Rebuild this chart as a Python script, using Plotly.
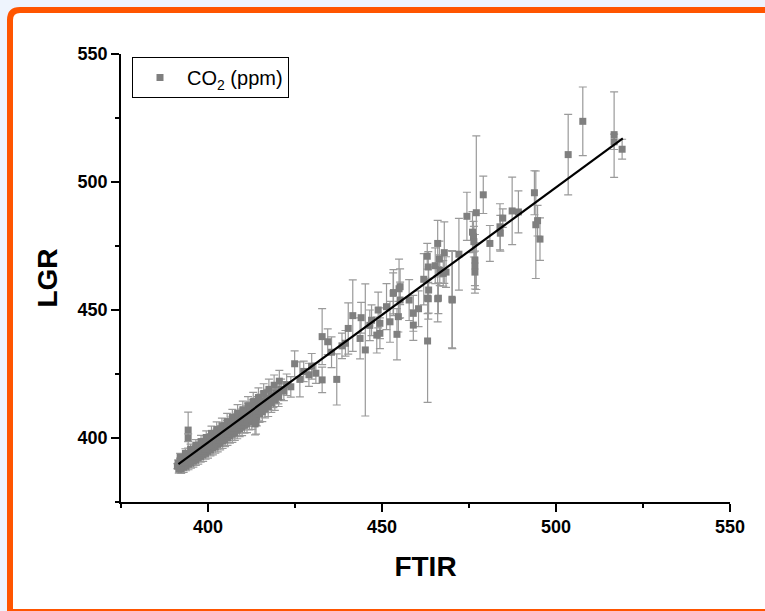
import plotly.graph_objects as go

# ---- data (FTIR vs LGR CO2, ppm) ----
ftir_dense = [391.2, 391.4, 391.7, 392.0, 392.2, 392.5, 392.8, 393.0, 393.3, 393.6,
              393.9, 394.1, 394.4, 394.7, 395.0, 395.3, 395.6, 395.9, 396.2, 396.5,
              396.8, 397.1, 397.4, 397.7, 398.0, 398.3, 398.6, 398.9, 399.2, 399.5,
              399.8, 400.1, 400.4, 400.7, 401.0, 401.3, 401.6, 401.9, 402.2, 402.5,
              402.8, 403.1, 403.4, 403.7, 404.0, 404.3, 404.6, 404.9, 405.2, 405.5,
              405.8, 406.1, 406.4, 406.7, 407.0, 407.3, 407.6, 407.9, 408.2, 408.5,
              408.8, 409.1, 409.4, 409.7, 410.0, 410.3, 410.6, 410.9, 411.2, 411.5,
              411.8, 412.1, 412.4, 412.8, 413.1, 413.5, 413.9, 414.3, 414.7, 415.1,
              415.5, 416.0, 416.5, 417.0, 417.6, 418.2, 418.8, 419.5, 420.2, 421.0,
              421.8, 422.6, 413.5, 413.8, 394.3, 394.3]
lgr_dense = [389.0, 390.2, 389.5, 390.8, 389.6, 391.5, 390.2, 392.0, 390.6, 392.4,
             391.0, 393.2, 391.6, 393.6, 392.0, 394.2, 392.4, 394.8, 393.0, 395.3,
             393.6, 396.0, 394.2, 396.5, 394.8, 397.2, 395.0, 397.8, 395.8, 398.5,
             396.4, 399.0, 397.0, 399.6, 397.5, 400.3, 398.2, 400.8, 398.6, 401.4,
             399.2, 402.0, 399.8, 402.6, 400.3, 403.2, 401.0, 403.8, 401.6, 404.4,
             402.0, 405.0, 402.6, 405.6, 403.3, 406.3, 403.8, 406.8, 404.5, 407.5,
             405.0, 408.0, 405.6, 408.6, 406.2, 409.2, 406.8, 410.0, 407.5, 410.6,
             408.0, 411.2, 408.6, 411.8, 409.3, 412.5, 409.8, 413.0, 410.5, 413.8,
             411.2, 414.6, 413.0, 415.5, 414.2, 416.4, 415.3, 417.6, 416.8, 419.0,
             418.3, 420.8, 405.5, 406.0, 403.1, 400.1]
err_dense = [1.0, 1.2, 1.0, 1.3, 1.1, 1.5, 1.2, 1.4, 1.3, 1.5,
             1.2, 1.6, 1.4, 1.5, 1.3, 1.7, 1.4, 1.6, 1.5, 1.8,
             1.4, 1.7, 1.5, 1.9, 1.6, 1.8, 1.5, 2.0, 1.7, 1.9,
             1.6, 2.0, 1.8, 2.1, 1.7, 2.0, 1.9, 2.2, 1.8, 2.1,
             1.9, 2.3, 2.0, 2.2, 1.9, 2.4, 2.0, 2.3, 2.1, 2.5,
             2.2, 2.4, 2.1, 2.6, 2.3, 2.5, 2.2, 2.7, 2.4, 2.6,
             2.3, 2.8, 2.5, 2.7, 2.4, 2.9, 2.6, 2.8, 2.5, 3.0,
             2.7, 2.9, 2.6, 3.1, 2.8, 3.0, 3.5, 3.2, 3.8, 3.3,
             3.0, 3.4, 3.1, 3.5, 3.3, 3.6, 3.4, 3.8, 3.5, 4.0,
             3.7, 4.2, 4.3, 4.5, 7.0, 1.5]

# points lying below the fit in the dense band
ftir_low = [391.6, 392.3, 393.0, 393.7, 394.4, 395.1, 395.8, 396.5, 397.2, 397.9,
            398.6, 399.3, 400.0, 400.7, 401.4, 402.1, 402.8, 403.5, 404.2, 404.9,
            405.6, 406.3, 407.0, 407.7, 408.4, 409.1, 409.8, 410.5, 411.2, 411.9,
            412.6, 413.3, 414.0, 414.8, 415.6, 416.4, 417.3, 418.2, 419.2, 420.3]
lgr_low = [387.8, 388.0, 388.6, 389.0, 389.8, 390.2, 391.0, 391.4, 392.3, 392.8,
           393.5, 394.0, 394.8, 395.4, 396.2, 396.6, 397.5, 398.0, 398.9, 399.3,
           400.2, 400.8, 401.5, 402.0, 403.0, 403.5, 404.3, 405.0, 405.6, 406.4,
           407.0, 407.8, 408.4, 409.5, 410.2, 411.4, 412.3, 413.6, 414.8, 416.0]
err_low = [1.5, 1.8, 2.0, 1.8, 2.2, 2.0, 2.4, 2.1, 2.5, 2.2,
           2.6, 2.3, 2.7, 2.4, 2.8, 2.5, 2.9, 2.6, 3.0, 2.7,
           3.1, 2.8, 3.2, 2.9, 3.3, 3.0, 3.4, 3.1, 3.5, 3.2,
           3.6, 3.3, 3.7, 3.4, 3.8, 3.5, 3.9, 3.6, 4.0, 3.7]

# points lying above the fit in the dense band
ftir_up = [392.0, 393.5, 395.0, 396.5, 398.0, 399.5, 401.0, 402.5, 404.0, 405.5,
           407.0, 408.5, 410.0, 411.5, 413.0, 414.5, 416.0, 417.5, 419.0, 420.5]
lgr_up = [392.5, 394.0, 395.6, 397.2, 398.6, 400.2, 401.8, 403.3, 404.8, 406.4,
          408.0, 409.6, 411.0, 412.6, 414.2, 415.8, 417.4, 419.0, 420.6, 422.2]
err_up = [1.5, 1.8, 2.0, 2.2, 2.4, 2.6, 2.8, 3.0, 3.0, 3.2,
          3.2, 3.4, 3.4, 3.6, 3.6, 3.8, 3.8, 4.0, 4.0, 4.2]

ftir_mid = [424.9, 423.8, 426.4, 432.8, 434.4, 437.0, 432.8, 429.0, 431.0, 440.3,
            441.6, 444.0, 445.2, 443.7, 448.9, 449.4, 448.5, 449.4, 452.3, 454.3,
            454.7, 459.0, 459.0, 453.2, 455.2, 463.1, 463.1, 466.2, 470.2, 427.5,
            429.8, 435.5, 438.5, 446.5, 451.3, 455.2, 457.8, 453.3, 454.9, 462.0,
            463.4, 463.3, 466.0, 460.5, 447.0, 439.5]
lgr_mid = [429.0, 420.0, 422.9, 439.6, 437.6, 422.9, 422.7, 424.7, 425.3, 442.8,
           447.8, 447.0, 434.4, 438.9, 450.0, 444.8, 440.2, 440.9, 445.4, 440.5,
           447.4, 448.7, 444.1, 456.5, 459.1, 437.9, 454.6, 454.6, 453.9, 426.0,
           428.0, 433.5, 436.0, 444.0, 451.3, 453.9, 453.9, 456.8, 458.3, 462.0,
           457.8, 454.4, 454.4, 450.5, 446.0, 437.0]
err_mid = [5.0, 4.0, 6.8, 10.9, 5.0, 10.0, 5.0, 4.5, 4.0, 10.0,
           14.0, 6.0, 25.8, 8.0, 7.0, 6.0, 7.0, 6.0, 8.0, 10.0,
           6.0, 7.0, 6.0, 8.0, 7.0, 24.0, 6.0, 6.0, 19.0, 4.0,
           5.0, 6.0, 5.0, 6.0, 9.0, 7.0, 8.0, 9.0, 11.6, 10.0,
           9.0, 8.0, 9.0, 7.0, 6.0, 5.0]

ftir_high = [503.5, 507.7, 516.7, 516.7, 519.0, 493.8, 494.2, 494.7, 495.4, 479.1,
             477.1, 474.4, 487.4, 489.2, 484.7, 483.9, 481.0, 476.0, 476.3, 476.4,
             472.1, 470.1, 466.0, 467.9, 466.5, 463.0, 463.3, 465.3, 466.6, 467.6,
             468.4, 476.7, 476.7, 476.7, 484.0]
lgr_high = [510.7, 523.7, 518.5, 515.7, 512.8, 495.8, 483.3, 484.9, 477.7, 495.0,
            488.0, 486.6, 488.7, 488.3, 485.9, 482.5, 476.0, 480.4, 478.6, 476.7,
            471.8, 454.2, 476.0, 472.4, 469.9, 471.0, 466.8, 467.3, 465.5, 464.3,
            464.8, 469.5, 467.2, 464.8, 480.0]
err_high = [15.7, 13.4, 16.7, 3.0, 3.9, 8.6, 21.0, 6.0, 8.3, 7.3,
            30.0, 9.4, 13.2, 8.2, 3.6, 9.0, 7.0, 8.0, 6.0, 6.0,
            14.0, 19.0, 9.0, 12.0, 7.0, 5.0, 6.0, 7.0, 6.0, 5.0,
            6.0, 10.0, 9.0, 8.2, 7.0]

fit_x = [391.5, 519.2]
fit_y = [389.8, 517.0]

x_ticks = [400, 450, 500, 550]
y_ticks = [400, 450, 500, 550]

ftir = ftir_low + ftir_up + ftir_dense + ftir_mid + ftir_high
lgr = lgr_low + lgr_up + lgr_dense + lgr_mid + lgr_high
err = err_low + err_up + err_dense + err_mid + err_high

FONT = "Liberation Sans, Arial, sans-serif"
W, H = 765, 611
L, R, T, B = 121, 35, 54, 109
PW, PH = W - L - R, H - T - B


def px(xp):
    return (xp - L) / PW


def py(yp):
    return (H - B - yp) / PH


fig = go.Figure()
fig.add_trace(go.Scatter(
    x=ftir, y=lgr, mode="markers", name="CO<sub>2</sub> (ppm)",
    marker=dict(symbol="square", size=7, color="#7f7f7f"),
    error_y=dict(type="data", array=err, visible=True, color="#9a9a9a",
                 thickness=1.2, width=4),
))
fig.add_trace(go.Scatter(
    x=fit_x, y=fit_y, mode="lines", showlegend=False,
    line=dict(color="black", width=2.2),
))

# page frame (orange rounded border)
x0, x1 = px(10), px(775)
y0, y1 = py(612), py(10)
rx, ry = 10 / PW, 10 / PH
frame_path = (f"M {x0 + rx},{y1} L {x1},{y1} L {x1},{y0} L {x0},{y0} "
              f"L {x0},{y1 - ry} Q {x0},{y1} {x0 + rx},{y1} Z")
fig.add_shape(type="path", path=frame_path, xref="paper", yref="paper",
              line=dict(color="#FF5500", width=6), fillcolor="white",
              layer="below")

axis_common = dict(
    range=[375, 550], showline=True, linecolor="black", linewidth=1.6,
    ticks="outside", ticklen=8, tickwidth=1.5, tickcolor="black",
    showgrid=False, zeroline=False, mirror=False,
    tickfont=dict(family=FONT, size=18, color="black", weight="bold"),
    minor=dict(ticks="outside", ticklen=4, tickwidth=1.5, tickcolor="black",
               dtick=25, tick0=375, showgrid=False),
)

fig.update_layout(
    width=W, height=H,
    margin=dict(l=L, r=R, t=T, b=B),
    paper_bgcolor="#EEF4FD",
    plot_bgcolor="rgba(0,0,0,0)",
    xaxis=dict(**axis_common, tickvals=x_ticks,
               title=dict(text="FTIR", standoff=20,
                          font=dict(family=FONT, size=28, color="black", weight="bold"))),
    yaxis=dict(**axis_common, tickvals=y_ticks,
               title=dict(text="LGR", standoff=12,
                          font=dict(family=FONT, size=28, color="black", weight="bold"))),
    legend=dict(x=px(132), y=py(57), xanchor="left", yanchor="top",
                bgcolor="white", bordercolor="black", borderwidth=1,
                itemwidth=44,
                font=dict(family=FONT, size=20, color="black")),
    showlegend=True,
)

fig.write_html("out.html")
